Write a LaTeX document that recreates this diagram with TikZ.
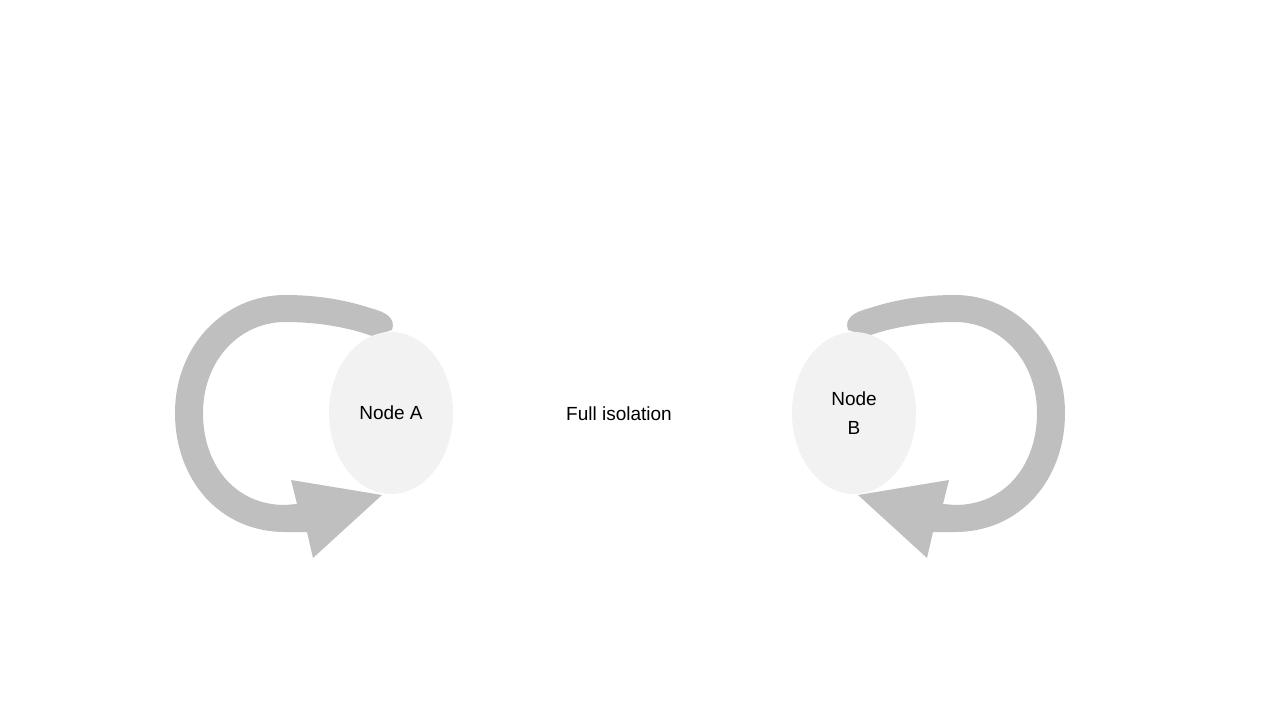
\documentclass[tikz,border=0pt]{standalone}
\usepackage{fontspec}
\setmainfont{Liberation Sans}
\usetikzlibrary{shapes.geometric}
\definecolor{loopgray}{RGB}{191,191,191}
\definecolor{nodegray}{RGB}{242,242,242}
\begin{document}
\begin{tikzpicture}[x=1pt,y=-1pt,
    loopband/.style={fill=loopgray},
    peer/.style={ellipse,fill=nodegray,minimum width=124pt,minimum height=162pt,inner sep=0pt,align=center,font=\fontsize{19}{29}\selectfont}]
    \useasboundingbox (0,0) rectangle (1280,720);

    % 自己ループの矢印 (右側は鏡像)
    \foreach \s/\m in {0/1,1240/-1} {
        \begin{scope}[shift={(\s,0)},xscale=\m]
            \fill[loopband] (392,330) .. controls (396,318) and (386,312) .. (370,308)
                .. controls (340,298) and (310,295) .. (285,295)
                .. controls (225,295) and (175,345) .. (175,413)
                .. controls (175,480) and (220,532) .. (285,532)
                -- (307,532) -- (313,558) -- (382,495) -- (291,480) -- (297,504)
                -- (285,505) .. controls (235,505) and (203,465) .. (203,413)
                .. controls (203,360) and (240,322) .. (285,322)
                .. controls (320,322) and (350,328) .. (372,336) -- cycle;
        \end{scope}
    }

    % ノードを描画
    \node[peer] (nodeA) at (391,413) {Node A};
    \node[peer] (nodeB) at (854,413) {Node\\B};

    % 中央のラベル
    \node[font=\fontsize{19}{23}\selectfont] (iso) at (619,414) {Full isolation};
\end{tikzpicture}
\end{document}
